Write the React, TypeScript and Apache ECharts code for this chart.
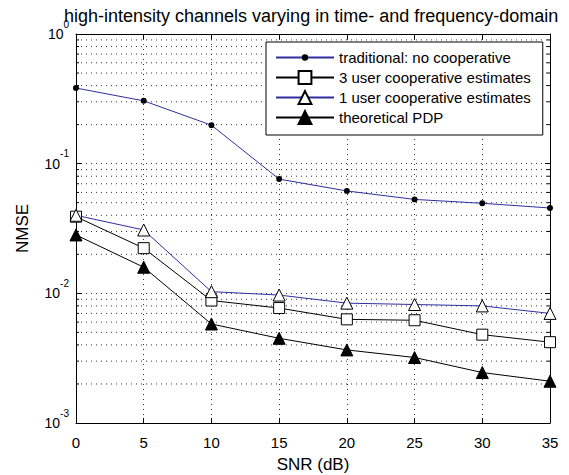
import React, { useEffect, useRef } from 'react';
import * as echarts from 'echarts';

const snr = [0, 5, 10, 15, 20, 25, 30, 35];
const traditional = [0.383, 0.305, 0.198, 0.076, 0.0616, 0.053, 0.0495, 0.0455];
const threeUser = [0.039, 0.0223, 0.0088, 0.0077, 0.0063, 0.0062, 0.0048, 0.0042];
const oneUser = [0.04, 0.0308, 0.0103, 0.0097, 0.0084, 0.0082, 0.008, 0.007];
const pdp = [0.0282, 0.0159, 0.0058, 0.0045, 0.00366, 0.0032, 0.00245, 0.0021];

const seriesNames = [
  'traditional: no cooperative',
  '3 user cooperative estimates',
  '1 user cooperative estimates',
  'theoretical PDP',
];
const titleText = 'high-intensity channels varying in time- and frequency-domain';
const xName = 'SNR (dB)';
const yName = 'NMSE';
const minorTicks = [
  0.002, 0.003, 0.004, 0.005, 0.006, 0.007, 0.008, 0.009,
  0.02, 0.03, 0.04, 0.05, 0.06, 0.07, 0.08, 0.09,
  0.2, 0.3, 0.4, 0.5, 0.6, 0.7, 0.8, 0.9,
];

const dotSymbol = 'path://M0 0L0.01 0M12 12L12.01 12M3 6A3 3 0 1 0 9 6A3 3 0 1 0 3 6Z';

export default function App() {
  const ref = useRef<HTMLDivElement>(null);
  useEffect(() => {
    const chart = echarts.init(ref.current!, null, { renderer: 'svg' });
    const font = 'Liberation Sans, Arial, Helvetica, sans-serif';
    const dotted = { color: '#333', width: 1, type: [1, 4] };
    const blue = '#2e2ea0';
    const pair = (arr: number[]) => snr.map((x, i) => [x, arr[i]]);
    const xBase = {
      type: 'value',
      min: 0,
      max: 35,
      interval: 5,
      gridIndex: 0,
      axisLine: { show: true, onZero: false, lineStyle: { color: '#000', width: 1 } },
      axisTick: { show: true, inside: true, length: 5, lineStyle: { color: '#000' } },
    };
    const yBase = {
      type: 'log',
      logBase: 10,
      min: 0.001,
      max: 1,
      gridIndex: 0,
      axisLine: { show: true, onZero: false, lineStyle: { color: '#000', width: 1 } },
      axisTick: { show: true, inside: true, length: 5, lineStyle: { color: '#000' } },
    };
    const option: any = {
      animation: false,
      backgroundColor: '#fff',
      title: {
        text: titleText,
        left: 64,
        top: 7,
        padding: 0,
        textStyle: { fontSize: 18, fontWeight: 'normal', color: '#000', fontFamily: font },
      },
      grid: {
        left: 76,
        top: 34,
        width: 474,
        height: 389,
        show: false,
        containLabel: false,
        outerBoundsMode: 'none',
      },
      legend: {
        data: seriesNames,
        orient: 'vertical',
        left: 266,
        top: 42,
        padding: [8, 12, 10, 9],
        itemGap: 5,
        itemWidth: 58,
        itemHeight: 16,
        backgroundColor: '#fff',
        borderColor: '#000',
        borderWidth: 1,
        borderRadius: 0,
        textStyle: { fontSize: 15, color: '#000', fontFamily: font },
        z: 10,
      },
      xAxis: [
        {
          ...xBase,
          position: 'bottom',
          name: xName,
          nameLocation: 'middle',
          nameGap: 33,
          nameTextStyle: { fontSize: 17, color: '#000', fontFamily: font },
          axisLabel: { fontSize: 15, color: '#000', fontFamily: font, margin: 12 },
          splitLine: { show: true, lineStyle: dotted },
        },
        {
          ...xBase,
          position: 'top',
          axisLabel: { show: false },
          splitLine: { show: false },
        },
      ],
      yAxis: [
        {
          ...yBase,
          position: 'left',
          name: yName,
          nameLocation: 'middle',
          nameGap: 45,
          nameTextStyle: { fontSize: 17, color: '#000', fontFamily: font },
          axisLabel: {
            margin: 7,
            fontFamily: font,
            color: '#000',
            formatter: (v: number) => `{b|10}{e|${Math.round(Math.log10(v))}}`,
            rich: {
              b: { fontSize: 14, color: '#000', fontFamily: font, verticalAlign: 'middle' },
              e: { fontSize: 10, color: '#000', fontFamily: font, verticalAlign: 'middle', padding: [0, 0, 20, 0] },
            },
          },
          splitLine: { show: true, lineStyle: dotted },
        },
        {
          ...yBase,
          position: 'right',
          axisLabel: { show: false },
          splitLine: { show: false },
        },
      ],
      series: [
        {
          type: 'custom',
          name: 'minor',
          xAxisIndex: 0,
          yAxisIndex: 0,
          silent: true,
          z: 1,
          clip: false,
          data: minorTicks.map((v) => [0, v]),
          renderItem: (params: any, api: any) => {
            const v = api.value(1);
            const p0 = api.coord([0, v]);
            const p1 = api.coord([35, v]);
            return {
              type: 'group',
              children: [
                {
                  type: 'line',
                  shape: { x1: p0[0], y1: p0[1], x2: p1[0], y2: p1[1] },
                  style: { stroke: '#333', lineWidth: 1, lineDash: [1, 4] },
                },
                {
                  type: 'line',
                  shape: { x1: p0[0], y1: p0[1], x2: p0[0] + 3, y2: p0[1] },
                  style: { stroke: '#000', lineWidth: 1 },
                },
                {
                  type: 'line',
                  shape: { x1: p1[0] - 3, y1: p1[1], x2: p1[0], y2: p1[1] },
                  style: { stroke: '#000', lineWidth: 1 },
                },
              ],
            };
          },
        },
        {
          name: seriesNames[0],
          type: 'line',
          data: pair(traditional),
          symbol: dotSymbol,
          symbolSize: 12,
          lineStyle: { color: blue, width: 1 },
          itemStyle: { color: '#000', borderWidth: 0 },
          z: 3,
        },
        {
          name: seriesNames[1],
          type: 'line',
          data: pair(threeUser),
          symbol: 'rect',
          symbolSize: 11,
          lineStyle: { color: '#000', width: 1 },
          itemStyle: { color: '#fff', borderColor: '#000', borderWidth: 1 },
          z: 4,
        },
        {
          name: seriesNames[2],
          type: 'line',
          data: pair(oneUser),
          symbol: 'triangle',
          symbolSize: 12,
          lineStyle: { color: blue, width: 1 },
          itemStyle: { color: '#fff', borderColor: '#000', borderWidth: 1 },
          z: 4,
        },
        {
          name: seriesNames[3],
          type: 'line',
          data: pair(pdp),
          symbol: 'triangle',
          symbolSize: 12,
          lineStyle: { color: '#000', width: 1 },
          itemStyle: { color: '#000', borderColor: '#000', borderWidth: 1 },
          z: 4,
        },
      ],
    };
    chart.setOption(option);
    return () => chart.dispose();
  }, []);
  return (
    <div
      ref={ref}
      style={{ position: 'absolute', left: 0, top: 0, width: 569, height: 475, background: '#fff' }}
    />
  );
}
